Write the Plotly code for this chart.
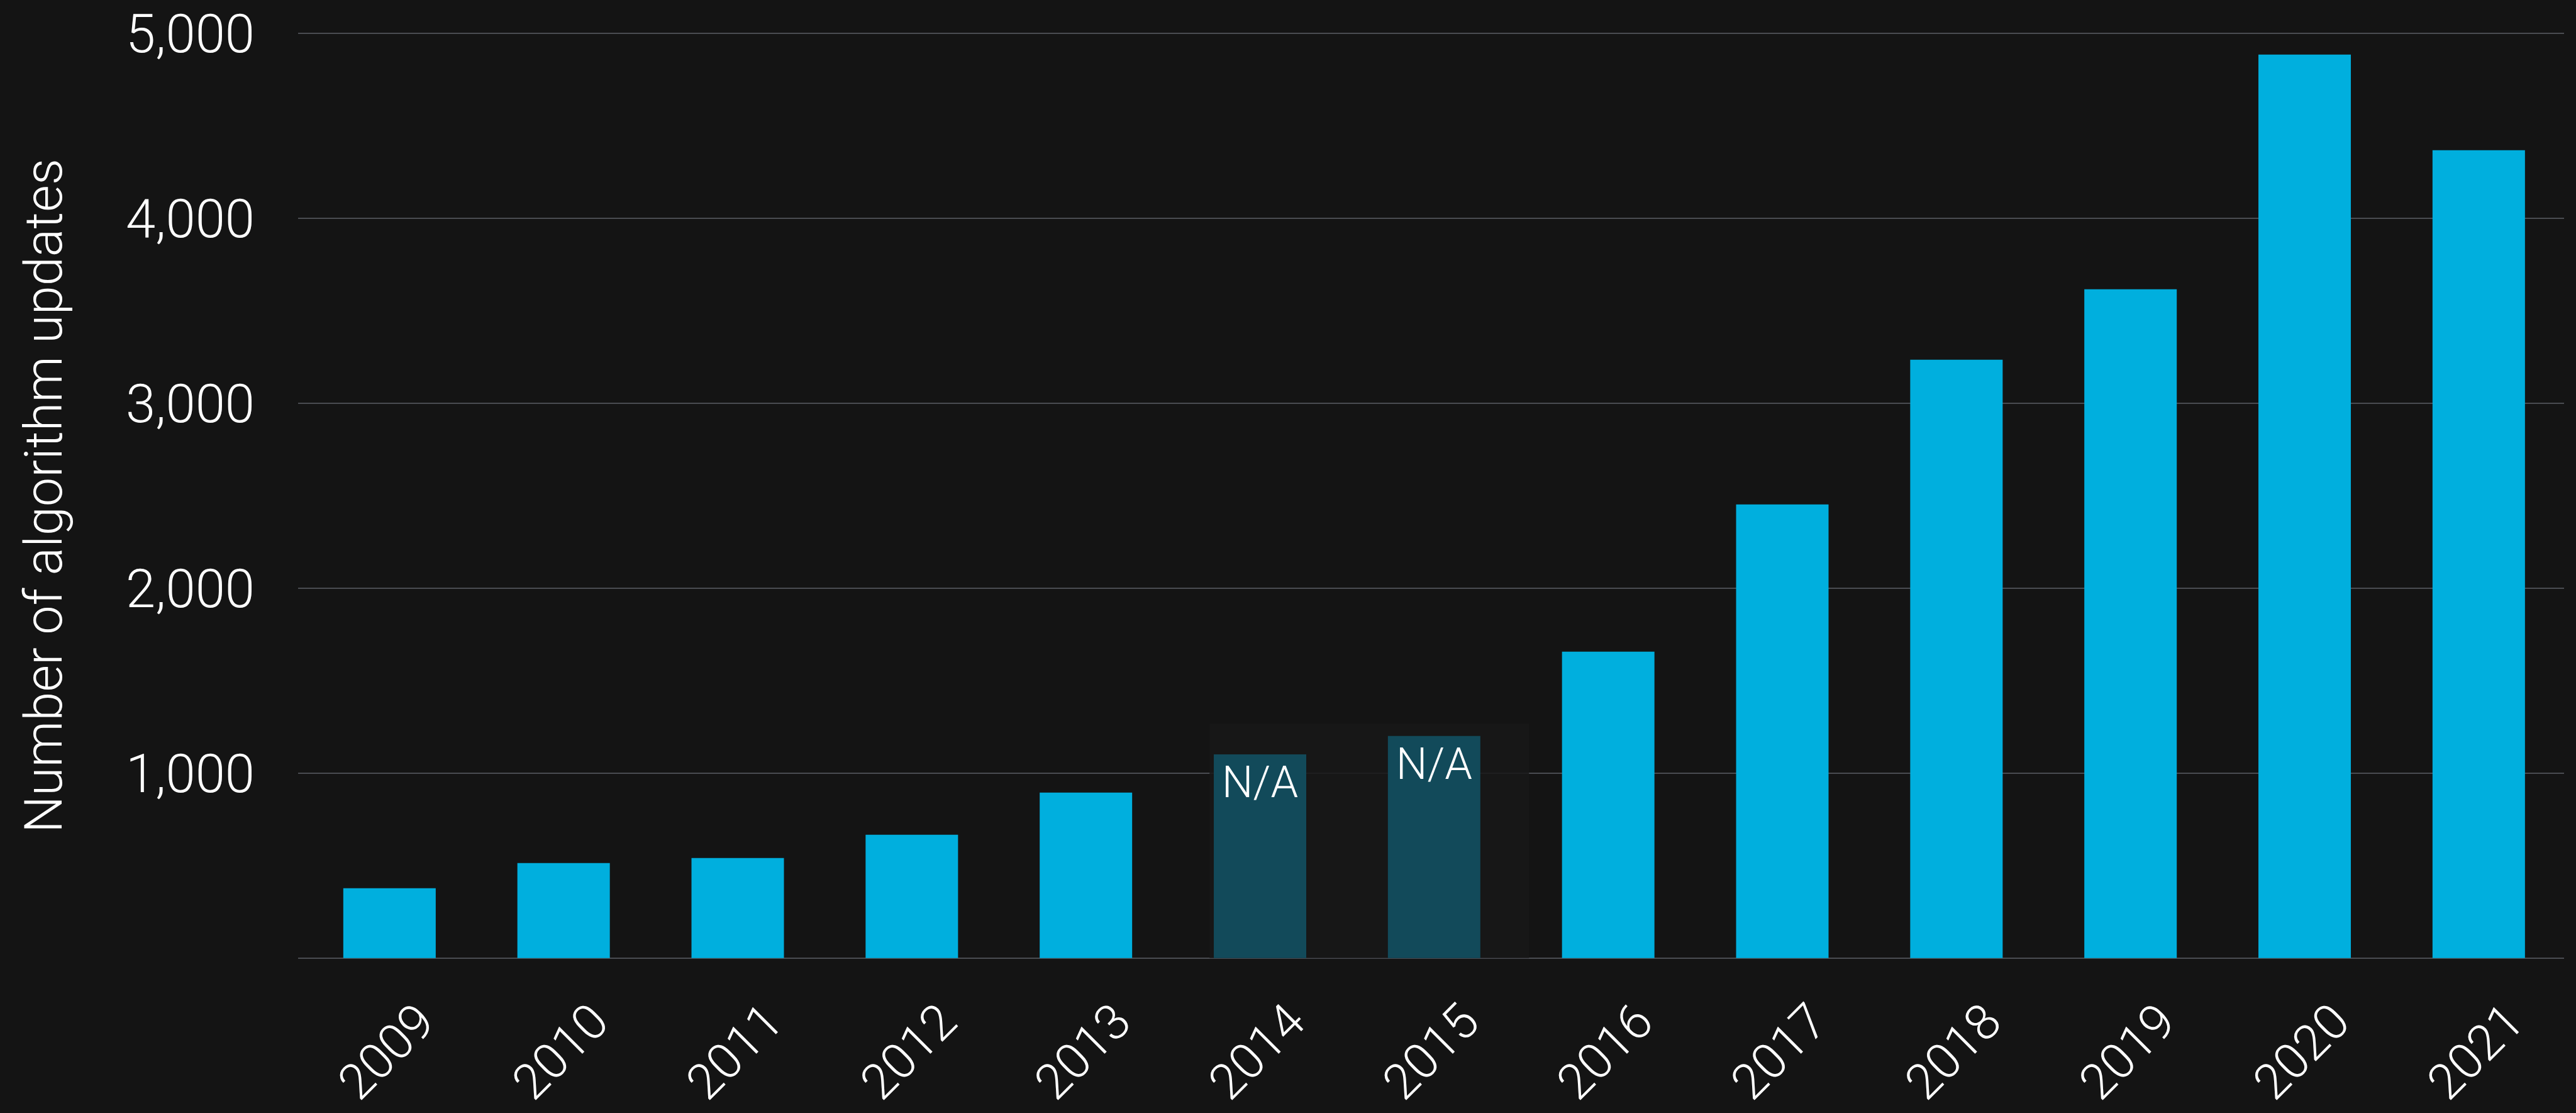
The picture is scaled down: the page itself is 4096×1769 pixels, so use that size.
import plotly.graph_objects as go

# ---- data ----
years = ["2009", "2010", "2011", "2012", "2013", "2014", "2015",
         "2016", "2017", "2018", "2019", "2020", "2021"]
updates = [378, 514, 541, 667, 895, 1102, 1201, 1657, 2453, 3236, 3617, 4886, 4369]
na_years = ["2014", "2015"]
y_tickvals = [0, 1000, 2000, 3000, 4000, 5000]
y_ticktext = ["", "1,000", "2,000", "3,000", "4,000", "5,000"]
y_title = "Number of algorithm updates"

# ---- styles ----
BG = "#141414"
BAR = "#00afde"
NA_BAR = "#124a5a"
GRID = "#4a4c52"
FONT = "Roboto"

colors = [NA_BAR if y in na_years else BAR for y in years]
texts = ["N/A" if y in na_years else "" for y in years]

fig = go.Figure()
fig.add_trace(go.Bar(
    x=years, y=updates,
    marker=dict(color=colors, line=dict(width=0)),
    text=texts, textposition="inside", insidetextanchor="end",
    textfont=dict(family=FONT, size=70, color="#ffffff", weight=300),
    textangle=0, cliponaxis=False, hoverinfo="skip",
))

# faint panel behind the N/A bars
i0 = years.index(na_years[0])
i1 = years.index(na_years[-1])
fig.add_shape(type="rect", xref="x", yref="y",
              x0=i0 - 0.29, x1=i1 + 0.545, y0=0, y1=1269,
              fillcolor="rgba(24,24,24,0.85)", line=dict(width=0),
              layer="between")

fig.update_layout(
    width=4096, height=1769,
    paper_bgcolor=BG, plot_bgcolor=BG,
    margin=dict(l=474, r=19, t=52, b=245, autoexpand=False),
    bargap=0.469,
    showlegend=False,
    font=dict(family=FONT, color="#ffffff", size=82, weight=300),
)
fig.update_xaxes(
    type="category", range=[-0.525, 12.49],
    showgrid=False, zeroline=False, showline=False,
    ticks="", tickangle=-45,
    tickfont=dict(family=FONT, size=79, color="#ffffff", weight=300),
    ticklabelstandoff=36, ticklabelshift=48,
    automargin=False,
)
fig.update_yaxes(
    range=[-4, 5004], tickvals=y_tickvals, ticktext=y_ticktext,
    showgrid=True, gridcolor=GRID, gridwidth=2,
    zeroline=False, showline=False, ticks="",
    tickfont=dict(family=FONT, size=85, color="#ffffff", weight=300),
    ticklabelstandoff=68,
    title=dict(text=y_title, font=dict(family=FONT, size=83, color="#ffffff", weight=300),
               standoff=74),
    automargin=False,
)

fig.write_html(
    "out.html",
    config={"displayModeBar": False},
    post_script="document.body.style.margin='0';document.body.style.padding='0';"
                "document.body.style.background='#141414';"
                "document.documentElement.style.background='#141414';"
                "document.body.style.overflow='hidden';",
)
